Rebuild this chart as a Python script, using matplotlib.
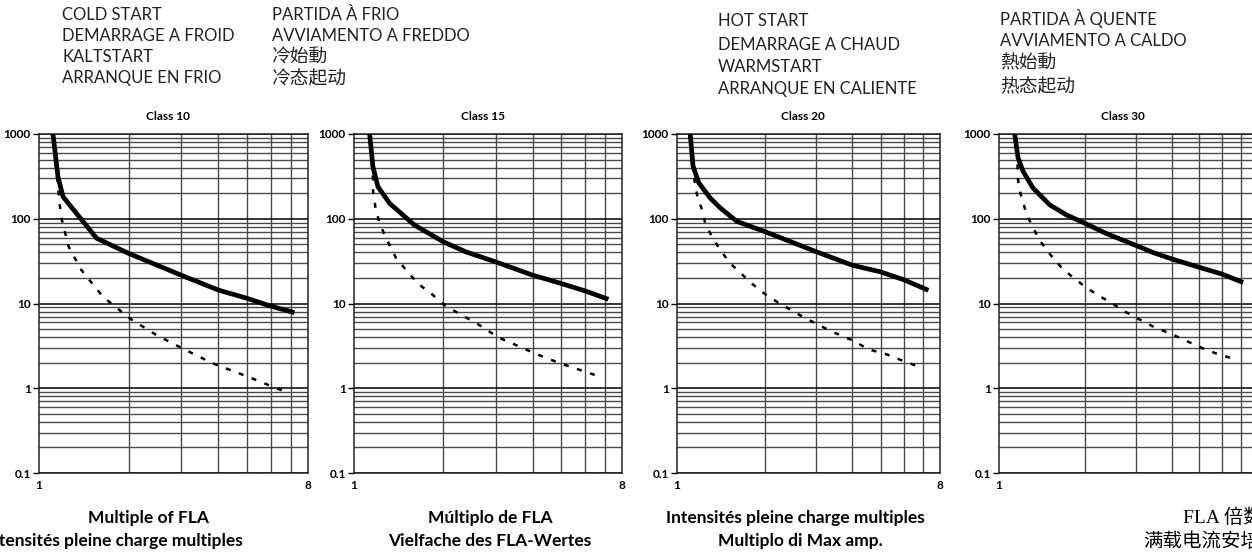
import numpy as np
import matplotlib.pyplot as plt
from matplotlib.ticker import FixedLocator, NullFormatter

# Curvas de disparo: continua = arranque en frío, discontinua = arranque en caliente
classes = ["Class 10", "Class 15", "Class 20", "Class 30"]

cold_x_10 = [1.114, 1.158, 1.204, 1.335, 1.56, 2.0, 3.0, 4.0, 5.0, 6.0, 7.2]
cold_y_10 = [1000, 313, 182, 116, 59, 39, 21.6, 14.4, 11.5, 9.3, 7.8]
hot_x_10 = [1.15, 1.174, 1.19, 1.258, 1.388, 1.64, 2.02, 2.48, 3.03, 3.84, 5.05, 6.86]
hot_y_10 = [313, 145, 101, 46.7, 24.8, 12, 6.65, 4.24, 2.95, 1.96, 1.36, 0.88]

cold_x_15 = [1.129, 1.158, 1.204, 1.318, 1.60, 2.0, 2.38, 3.0, 4.0, 5.0, 6.0, 7.2]
cold_y_15 = [1000, 411, 239, 152, 84, 53.5, 40.7, 31, 21.6, 17.2, 14.1, 11.2]
hot_x_15 = [1.149, 1.158, 1.16, 1.18, 1.21, 1.261, 1.318, 1.388, 1.5, 1.64, 1.82,
            2.02, 2.26, 2.71, 3.05, 3.42, 3.8, 4.49, 5.17, 6.04, 6.87]
hot_y_15 = [471, 299, 208, 139, 98, 67, 48.8, 34, 24.8, 17.2, 13.1,
            9.55, 7.6, 5.3, 4.0, 3.37, 2.86, 2.24, 1.87, 1.56, 1.34]

cold_x_20 = [1.11, 1.135, 1.187, 1.30, 1.408, 1.606, 2.0, 2.38, 3.0, 4.0, 5.0, 6.0, 7.3]
cold_y_20 = [1000, 420, 266, 176, 134, 93, 70.6, 56, 40.9, 28.3, 23.6, 19.1, 14.3]
hot_x_20 = [1.135, 1.147, 1.171, 1.218, 1.25, 1.318, 1.408, 1.524, 1.81, 2.0, 2.26,
            2.72, 3.03, 3.45, 4.04, 4.54, 5.25, 6.0, 6.9]
hot_y_20 = [440, 291, 193, 128, 88.8, 61.6, 42.8, 29.7, 17.1, 13.0, 9.9,
            6.9, 5.7, 4.56, 3.63, 2.88, 2.51, 2.09, 1.75]

cold_x_30 = [1.134, 1.165, 1.212, 1.313, 1.502, 1.718, 2.0, 2.37, 3.0, 3.44, 4.0, 5.0, 6.0, 7.1]
cold_y_30 = [1000, 526, 365, 231, 146, 111, 88, 66.8, 48.5, 40, 33.6, 26.7, 22.2, 17.7]
hot_x_30 = [1.16, 1.165, 1.187, 1.25, 1.32, 1.386, 1.502, 1.65, 1.81, 2.016, 2.24,
            2.465, 2.71, 3.1, 3.44, 4.05, 4.56, 5.14, 5.72, 6.82]
hot_y_30 = [438, 290, 201, 111, 76.6, 55.6, 38.5, 26.7, 20.3, 15.4, 12.2,
            10.2, 8.25, 6.44, 5.36, 4.26, 3.55, 2.95, 2.57, 2.14]

y_labels = ["0.1", "1", "10", "100", "1000"]
x_labels = ["1", "8"]

cold_title = ["COLD START", "DEMARRAGE A FROID", "KALTSTART", "ARRANQUE EN FRIO"]
cold_title2 = ["PARTIDA À FRIO", "AVVIAMENTO A FREDDO", "冷始動", "冷态起动"]
hot_title = ["HOT START", "DEMARRAGE A CHAUD", "WARMSTART", "ARRANQUE EN CALIENTE"]
hot_title2 = ["PARTIDA À QUENTE", "AVVIAMENTO A CALDO", "熱始動", "热态起动"]

xlabels = [["Multiple of FLA", "Intensités pleine charge multiples"],
           ["Múltiplo de FLA", "Vielfache des FLA-Wertes"],
           ["Intensités pleine charge multiples", "Multiplo di Max amp."],
           ["FLA 倍数", "满载电流安培(倍数)"]]

curves = [(cold_x_10, cold_y_10, hot_x_10, hot_y_10),
          (cold_x_15, cold_y_15, hot_x_15, hot_y_15),
          (cold_x_20, cold_y_20, hot_x_20, hot_y_20),
          (cold_x_30, cold_y_30, hot_x_30, hot_y_30)]

W, H = 1252, 558
fig = plt.figure(figsize=(W / 100, H / 100), dpi=100)

# posiciones en píxeles (izquierda, derecha) de cada panel
panels_px = [(39, 308), (354, 622), (677, 940), (999, 1258)]
top_px, bot_px = 134, 473

latin = ["Lato", "DejaVu Sans"]
cjk = ["Noto Sans CJK TC", "Noto Sans CJK SC", "DejaVu Sans"]
serif_cjk = ["Liberation Serif", "Noto Sans CJK SC"]

for i, ((l, r), (cx, cy, hx, hy)) in enumerate(zip(panels_px, curves)):
    ax = fig.add_axes([l / W, 1 - bot_px / H, (r - l) / W, (bot_px - top_px) / H])
    ax.set_xscale("log")
    ax.set_yscale("log")
    ax.set_xlim(1, 8)
    ax.set_ylim(0.1, 1000)

    ax.yaxis.set_major_locator(FixedLocator([0.1, 1, 10, 100, 1000]))
    ax.set_yticklabels(y_labels)
    minors = [m * 10.0 ** e for e in range(-1, 3) for m in range(2, 10)]
    ax.yaxis.set_minor_locator(FixedLocator(minors))
    ax.yaxis.set_minor_formatter(NullFormatter())
    ax.xaxis.set_major_locator(FixedLocator([1, 8]))
    ax.set_xticklabels(x_labels)
    ax.xaxis.set_minor_locator(FixedLocator([2, 3, 4, 5, 6, 7]))
    ax.xaxis.set_minor_formatter(NullFormatter())

    ax.grid(True, which="major", axis="y", color="black", lw=1.1)
    ax.grid(True, which="minor", axis="both", color="#4a4a4a", lw=1.0)
    ax.tick_params(axis="y", which="major", length=4, width=1, pad=2, labelsize=8.5)
    ax.tick_params(axis="y", which="minor", length=0)
    ax.tick_params(axis="x", which="both", length=0, pad=5, labelsize=8.5)
    for lab in ax.get_xticklabels() + ax.get_yticklabels():
        lab.set_fontweight("bold")
        lab.set_family(latin)
    for s in ax.spines.values():
        s.set_linewidth(1.1)
        s.set_color("#222222")

    ax.plot(cx, cy, color="black", lw=3.4, solid_capstyle="butt", zorder=5)
    ax.plot(hx, hy, color="black", lw=1.8, linestyle=(0, (2, 3.5)), zorder=5)

    ax.text(0.48, 1.052, classes[i], transform=ax.transAxes, ha="center",
            va="center", fontsize=8.5, fontweight="bold", family=latin)

# textos del eje x: (centro x, línea)
lab_pos = [(148, 113), (490, 490), (795, 800)]
for i in range(3):
    for k, (y, t) in enumerate(zip([518, 541], xlabels[i])):
        fig.text(lab_pos[i][k] / W, 1 - y / H, t, ha="center", va="center",
                 fontsize=12.5, fontweight="bold", family=latin)
# último panel: texto cortado por el borde derecho, como en el original
for x, y, t in zip([1183, 1143], [518, 541], xlabels[3]):
    fig.text(x / W, 1 - y / H, t, ha="left", va="center",
             fontsize=14, family=serif_cjk)


# textos superiores
def block(x, ys, lines):
    for y, t in zip(ys, lines):
        is_cjk = any(ord(c) > 0x2E80 for c in t)
        fig.text(x / W, 1 - y / H, t, ha="left", va="center",
                 fontsize=13.5 if is_cjk else 12,
                 family=cjk if is_cjk else latin, color="#222222")


block(62, [15, 36, 57, 78], cold_title)
block(272, [15, 36, 57, 79], cold_title2)
block(718, [21, 45, 67, 89], hot_title)
block(1000, [19, 41, 63, 87], hot_title2)

fig.savefig("out.png", dpi=100)
